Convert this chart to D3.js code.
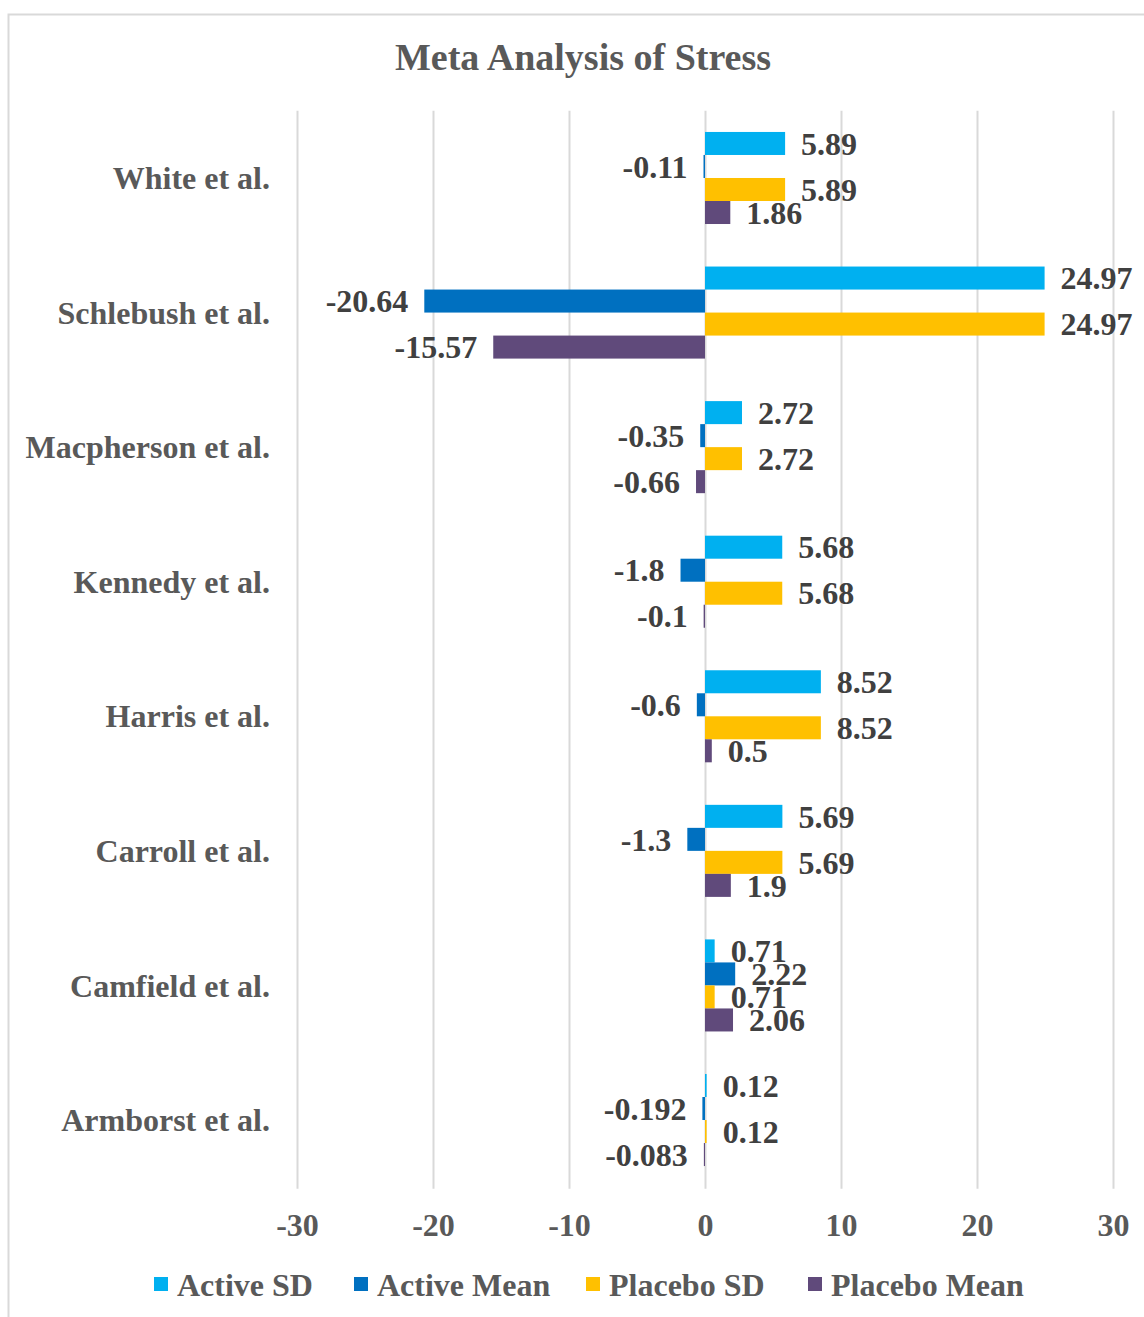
<!DOCTYPE html>
<html>
<head>
<meta charset="utf-8">
<script src="https://d3js.org/d3.v7.min.js"></script>
<style>
  body { margin: 0; background: #fff; }
  svg text { font-family: "Liberation Serif", "Times New Roman", serif; font-weight: bold; }
</style>
</head>
<body>
<svg id="chart" width="1144" height="1317"></svg>
<script>
// data
var studies = ["White et al.", "Schlebush et al.", "Macpherson et al.", "Kennedy et al.",
               "Harris et al.", "Carroll et al.", "Camfield et al.", "Armborst et al."];
var seriesNames = ["Active SD", "Active Mean", "Placebo SD", "Placebo Mean"];
var activeSD    = [5.89, 24.97, 2.72, 5.68, 8.52, 5.69, 0.71, 0.12];
var activeMean  = [-0.11, -20.64, -0.35, -1.8, -0.6, -1.3, 2.22, -0.192];
var placeboSD   = [5.89, 24.97, 2.72, 5.68, 8.52, 5.69, 0.71, 0.12];
var placeboMean = [1.86, -15.57, -0.66, -0.1, 0.5, 1.9, 2.06, -0.083];
var xTicks = [-30, -20, -10, 0, 10, 20, 30];

var colors = ["#00B0F0", "#0070C0", "#FFC000", "#604A7B"];
var seriesValues = [activeSD, activeMean, placeboSD, placeboMean];

var svg = d3.select("#chart");

// outer frame
svg.append("rect")
    .attr("x", 8.5).attr("y", 14.5)
    .attr("width", 1160).attr("height", 1330)
    .attr("fill", "none").attr("stroke", "#d9d9d9").attr("stroke-width", 2);

var x = d3.scaleLinear().domain([-30, 30]).range([297, 1113]);
var y0 = d3.scaleBand().domain(studies).range([110.7, 1187.3])
    .paddingInner(0.316).paddingOuter(0.158);
var y1 = d3.scaleBand().domain(seriesNames).range([0, y0.bandwidth()]);

// gridlines
svg.append("g")
    .attr("transform", "translate(0,110.7)")
    .call(d3.axisBottom(x).tickValues(xTicks).tickSize(1078).tickFormat(""))
    .call(function(g) {
      g.select(".domain").remove();
      g.selectAll(".tick line").attr("stroke", "#d9d9d9").attr("stroke-width", 2);
    });

// tick labels (plain hyphen minus like the original)
svg.append("g")
    .attr("transform", "translate(0,1187)")
    .call(d3.axisBottom(x).tickValues(xTicks).tickSize(0).tickPadding(0)
      .tickFormat(function(d) { return String(d); }))
    .call(function(g) {
      g.select(".domain").remove();
      g.selectAll(".tick text")
        .attr("y", 49).attr("dy", null)
        .attr("fill", "#595959")
        .style("font-size", "32px");
    });

// category labels
svg.append("g").selectAll("text")
  .data(studies)
  .join("text")
    .attr("x", 270)
    .attr("y", function(d) { return y0(d) + y0.bandwidth() / 2; })
    .attr("dy", "0.35em")
    .attr("text-anchor", "end")
    .attr("fill", "#595959")
    .style("font-size", "32px")
    .text(function(d) { return d; });

// bars + labels
var rows = [];
studies.forEach(function(s, i) {
  seriesNames.forEach(function(n, j) {
    rows.push({ study: s, series: n, value: seriesValues[j][i], color: colors[j] });
  });
});

var groups = svg.append("g").selectAll("g")
  .data(rows)
  .join("g")
    .attr("transform", function(d) { return "translate(0," + (y0(d.study) + y1(d.series)) + ")"; });

groups.append("rect")
    .attr("x", function(d) { return Math.min(x(0), x(d.value)); })
    .attr("width", function(d) { return Math.max(1, Math.abs(x(d.value) - x(0))); })
    .attr("height", y1.bandwidth())
    .attr("fill", function(d) { return d.color; });

groups.append("text")
    .attr("x", function(d) { return d.value >= 0 ? x(d.value) + 16 : x(d.value) - 16; })
    .attr("y", y1.bandwidth() / 2)
    .attr("dy", "0.35em")
    .attr("text-anchor", function(d) { return d.value >= 0 ? "start" : "end"; })
    .attr("fill", "#404040")
    .style("font-size", "32px")
    .text(function(d) { return String(d.value); });

// title
svg.append("text")
    .attr("x", 583).attr("y", 70)
    .attr("text-anchor", "middle")
    .attr("fill", "#595959")
    .style("font-size", "38px")
    .text("Meta Analysis of Stress");

// legend
var legendX = [154, 354, 586, 808];
var legend = svg.append("g").selectAll("g")
  .data(seriesNames)
  .join("g")
    .attr("transform", function(d, i) { return "translate(" + legendX[i] + ",1277)"; });

legend.append("rect")
    .attr("width", 14).attr("height", 14)
    .attr("fill", function(d, i) { return colors[i]; });

legend.append("text")
    .attr("x", 23).attr("y", 19)
    .attr("fill", "#595959")
    .style("font-size", "32px")
    .text(function(d) { return d; });
</script>
</body>
</html>
